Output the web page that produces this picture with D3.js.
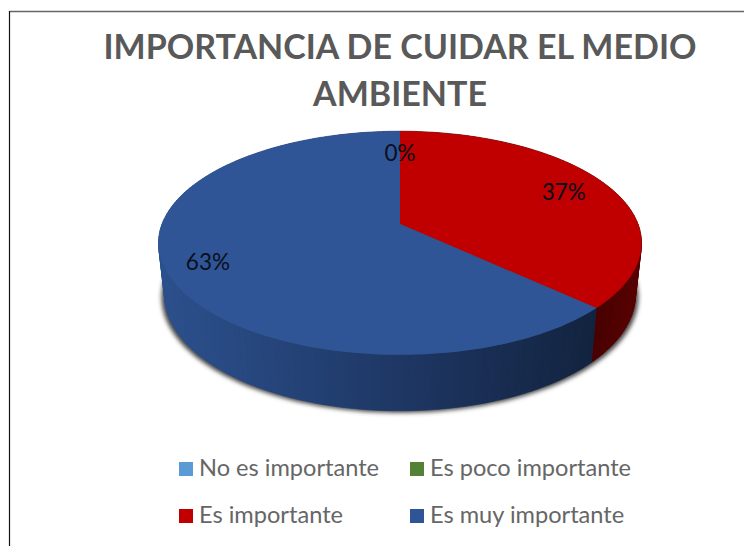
<!DOCTYPE html>
<html lang="en">
<head>
  <meta charset="UTF-8">
  <title>Importancia de cuidar el medio ambiente</title>
  <script src="https://d3js.org/d3.v7.min.js"></script>
  <style>
    html, body { margin: 0; background: #fff; }
    text { font-family: Lato, "Open Sans", sans-serif; }
    .title { font-size: 34px; font-weight: 700; fill: #595959; text-anchor: middle; }
    .legend-text { font-size: 23.6px; fill: #666; }
    .label { font-size: 22.5px; fill: #0a0f1c; text-anchor: middle; }
  </style>
</head>
<body>
  <svg width="744" height="546"></svg>
  <script>
    const categories = ["No es importante", "Es poco importante", "Es importante", "Es muy importante"];
    const values = [0, 0, 37, 63];
    const titleLines = ["IMPORTANCIA DE CUIDAR EL MEDIO", "AMBIENTE"];
    const topColors = ["#5b9bd5", "#548235", "#c00000", "#2f5597"];
    const wallColors = [
      ["#3f6f9c", "#3f6f9c"],
      ["#3a5a25", "#3a5a25"],
      ["#480000", "#5c0000"],
      ["#2c518f", "#1e3764", "#12233f"]
    ];

    const svg = d3.select("svg");

    // chart frame, only top and left edges are inside the crop
    svg.append("line").attr("x1", 9.5).attr("x2", 744).attr("y1", 11.5).attr("y2", 11.5)
      .attr("stroke", "#666").attr("stroke-width", 1.5);
    svg.append("line").attr("x1", 9.5).attr("x2", 9.5).attr("y1", 11).attr("y2", 546)
      .attr("stroke", "#111").attr("stroke-width", 1.2);

    svg.selectAll(".title").data(titleLines).enter().append("text")
      .attr("class", "title")
      .attr("x", 400)
      .attr("y", (d, i) => 59 + i * 47)
      .text(d => d);

    // perspective view of the pie: circle point (u, v) to screen
    const cx = 400, cy = 224, persp = -0.17;
    const topK = 238, topB = 70.5, bottomK = 232;

    function project(angle, r, k) {
      const u = r * Math.sin(angle), v = -r * Math.cos(angle);
      const w = 1 + persp * v;
      return [cx + k * u / w, (cy + topB * v) / w];
    }
    function topPoint(angle, r = 1) { return project(angle, r, topK); }
    function bottomPoint(angle, k = bottomK, extra = 0) {
      const p = project(angle, 1, k);
      return [p[0], p[1] + 51 + 5 * -Math.cos(angle) + extra];
    }

    const pie = d3.pie().sort(null).value(d => d)(values);
    const line = d3.line();
    const step = Math.PI / 120;

    function anglesBetween(a, b) {
      const list = d3.range(a, b, step);
      list.push(b);
      return list;
    }

    // blurred shadow under the wall
    const defs = svg.append("defs");
    defs.append("filter").attr("id", "soft")
      .attr("x", "-10%").attr("y", "-10%").attr("width", "120%").attr("height", "120%")
      .append("feGaussianBlur").attr("stdDeviation", 2);

    svg.append("path")
      .attr("d", line(anglesBetween(0, 2 * Math.PI).map(a => bottomPoint(a, bottomK + 3, 2))) + "Z")
      .attr("fill", "#4a4a4a")
      .attr("filter", "url(#soft)");

    // side wall, one narrow strip per step so the shading bands like the original
    const strips = [];
    pie.forEach(s => {
      if (s.endAngle - s.startAngle <= 0) return;
      const list = anglesBetween(s.startAngle, s.endAngle);
      const stops = wallColors[s.index];
      const xs = stops.length === 3 ? [162, 400, 592] : [592, 640];
      const shade = d3.scaleLinear().domain(xs).range(stops).clamp(true);
      d3.pairs(list).forEach(([a, b]) => {
        strips.push({
          pts: [topPoint(a), topPoint(b), bottomPoint(b), bottomPoint(a)],
          color: shade(bottomPoint((a + b) / 2)[0])
        });
      });
    });

    svg.selectAll(".strip").data(strips).enter().append("path")
      .attr("class", "strip")
      .attr("d", d => line(d.pts) + "Z")
      .attr("fill", d => d.color)
      .attr("stroke", d => d.color)
      .attr("stroke-width", 0.6);

    // top faces
    svg.selectAll(".slice").data(pie.filter(s => s.value > 0)).enter().append("path")
      .attr("class", "slice")
      .attr("d", s => line([[cx, cy]].concat(anglesBetween(s.startAngle, s.endAngle).map(a => topPoint(a)))) + "Z")
      .attr("fill", s => topColors[s.index]);

    // only one of the two 0% labels shows, they sit on top of each other
    const labelRadius = [null, 0.73, 0.79, 0.83];
    svg.selectAll(".label").data(pie.filter(s => labelRadius[s.index] !== null)).enter().append("text")
      .attr("class", "label")
      .attr("x", s => topPoint((s.startAngle + s.endAngle) / 2, labelRadius[s.index])[0])
      .attr("y", s => topPoint((s.startAngle + s.endAngle) / 2, labelRadius[s.index])[1] + 8)
      .text(s => s.value + "%");

    // legend, two columns and two rows
    const legendX = d3.scalePoint().domain([0, 1]).range([179, 410]);
    const legendY = d3.scalePoint().domain([0, 1]).range([462, 509]);
    const legend = svg.selectAll(".legend").data(categories).enter().append("g")
      .attr("class", "legend")
      .attr("transform", (d, i) => `translate(${legendX(i % 2)},${legendY(Math.floor(i / 2))})`);
    legend.append("rect")
      .attr("width", 14).attr("height", 14)
      .attr("fill", (d, i) => topColors[i]);
    legend.append("text")
      .attr("class", "legend-text")
      .attr("x", 20)
      .attr("y", 13.5)
      .text(d => d);
  </script>
</body>
</html>
